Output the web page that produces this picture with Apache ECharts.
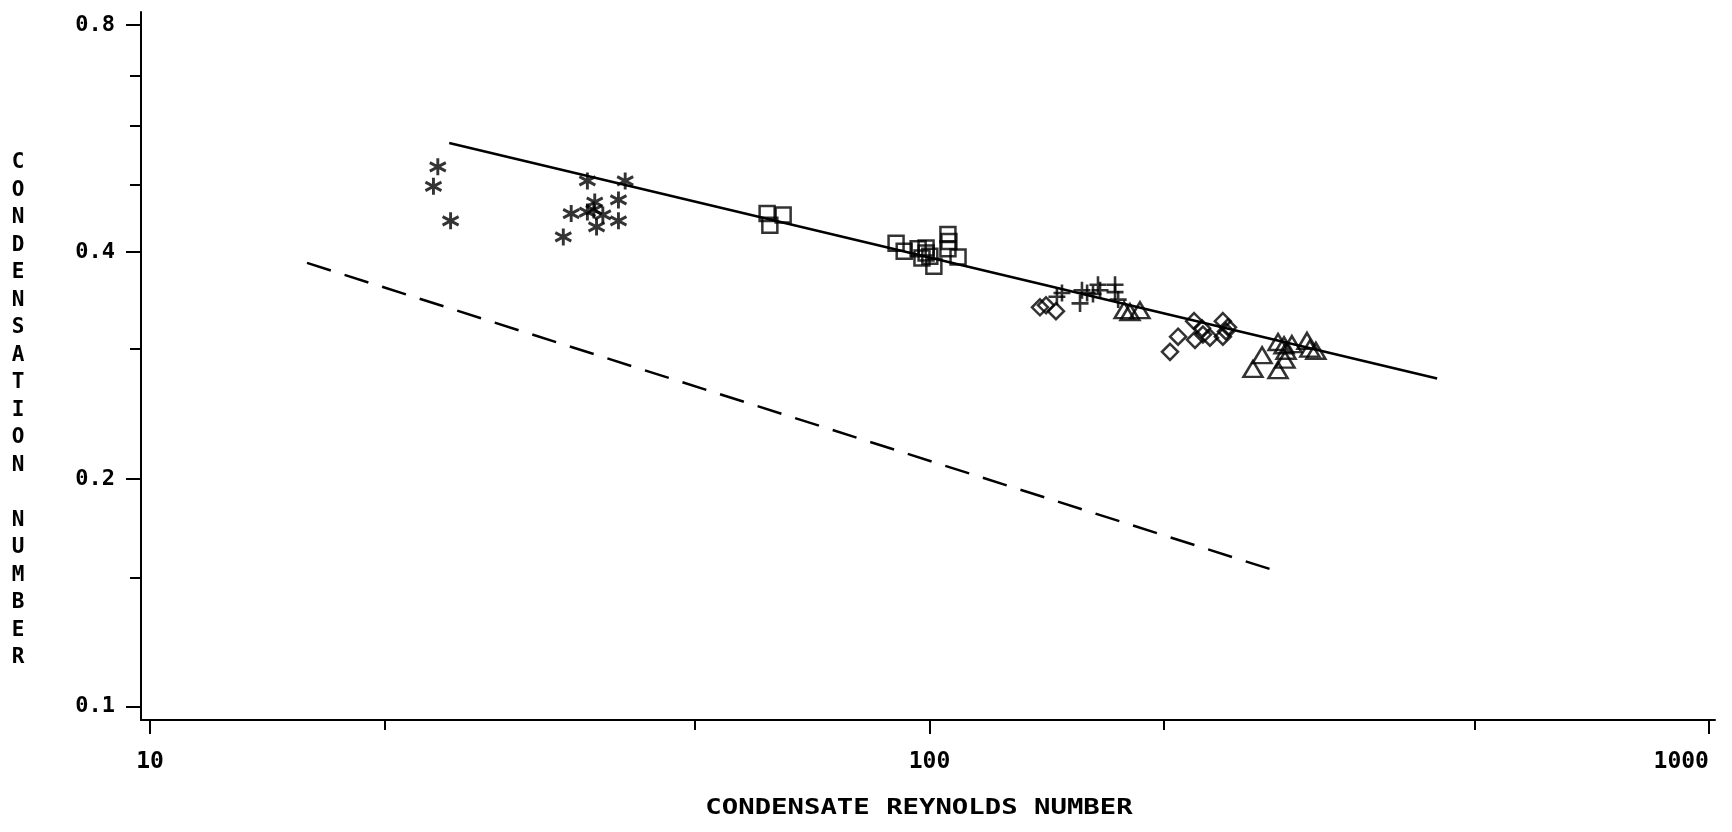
<!DOCTYPE html>
<html>
<head>
<meta charset="utf-8">
<script src="https://cdn.jsdelivr.net/npm/echarts@6/dist/echarts.min.js"></script>
<style>
  html, body { margin: 0; padding: 0; background: #ffffff; }
  #chart { width: 1732px; height: 832px; }
</style>
</head>
<body>
<div id="chart"></div>
<script>
// Run groups: condensate Reynolds number (Re) and condensation number (Co)
const starRe = [23.4, 23.1, 24.3, 36.4, 40.7, 39.9, 37.2, 34.7, 36.4, 38.1, 37.4, 39.9, 33.9, 37.1];
const starCo = [0.519, 0.489, 0.440, 0.497, 0.497, 0.469, 0.466, 0.450, 0.452, 0.448, 0.432, 0.440, 0.419, 0.455];

const squareRe = [61.9, 64.9, 62.4, 90.6, 92.8, 96.7, 99.0, 100.1, 101.3, 105.6, 105.9, 105.6, 108.8, 97.8, 99.0];
const squareCo = [0.450, 0.448, 0.434, 0.411, 0.401, 0.404, 0.405, 0.395, 0.383, 0.422, 0.413, 0.404, 0.394, 0.393, 0.399];

const plusRe = [147.9, 145.7, 156.9, 159.3, 162.1, 164.5, 173.0, 173.0, 156.0, 174.6, 165.5];
const plusCo = [0.353, 0.349, 0.356, 0.353, 0.352, 0.362, 0.362, 0.354, 0.342, 0.346, 0.356];

const diamondRe = [138.6, 141.1, 145.3, 203.5, 208.4, 218.5, 219.1, 224.3, 223.7, 237.9, 241.5, 237.9, 240.1, 229.0];
const diamondCo = [0.338, 0.340, 0.334, 0.295, 0.309, 0.324, 0.306, 0.311, 0.317, 0.324, 0.318, 0.309, 0.314, 0.308];

const triangleRe = [177.7, 180.8, 186.2, 260.0, 267.1, 280.0, 280.0, 285.8, 286.7, 291.7, 305.0, 307.6, 313.1, 285.0];
const triangleCo = [0.335, 0.333, 0.335, 0.280, 0.292, 0.279, 0.304, 0.288, 0.296, 0.302, 0.305, 0.298, 0.296, 0.301];

// Correlation lines (end points)
const solidRe = [24.2, 448];
const solidCo = [0.558, 0.272];
const dashedRe = [15.9, 273.5];
const dashedCo = [0.387, 0.152];

// Axis ticks
const xMajorTicks = [10, 100, 1000];
const xMinorTicks = [20, 50, 200, 500];
const yMajorTicks = [0.1, 0.2, 0.4, 0.8];
const yMinorTicks = [0.148, 0.298, 0.492, 0.588, 0.685];

const xTitle = 'CONDENSATE REYNOLDS NUMBER';
const yTitle = 'CONDENSATION NUMBER';

// Axis extents (the frame extends slightly past the first/last tick)
const X_MIN = 9.737, X_MAX = 1018;
const Y_MIN = 0.0959, Y_MAX = 0.8324;

const FONT = '"DejaVu Sans Mono", "Liberation Mono", monospace';
const INK = '#000000';

function zip(xs, ys) { return xs.map((x, i) => [x, ys[i]]); }
const lg = Math.log10;

const markerStyle = { color: 'rgba(0,0,0,0)', borderColor: INK, borderWidth: 2.5 };

function scatter(name, xs, ys, symbol, size, width) {
  return {
    name: name, type: 'scatter', xAxisIndex: 0, yAxisIndex: 0,
    data: zip(xs, ys), symbol: symbol, symbolSize: size,
    itemStyle: Object.assign({}, markerStyle, width ? { borderWidth: width } : {}),
    silent: true, z: 3
  };
}

// Overlay axis in log10 space used only for tick marks and tick labels
function tickAxis(base, values, len, labels, extra) {
  return Object.assign({
    type: 'value', min: lg(base[0]), max: lg(base[1]),
    axisLine: { show: false }, splitLine: { show: false },
    axisTick: { show: true, inside: false, length: len, customValues: values.map(lg),
                lineStyle: { color: INK, width: 2 } },
    axisLabel: labels ? Object.assign({ show: true, customValues: values.map(lg) }, labels)
                      : { show: false }
  }, extra || {});
}

const chart = echarts.init(document.getElementById('chart'), null, { renderer: 'canvas' });

chart.setOption({
  animation: false,
  backgroundColor: '#ffffff',
  grid: { left: 141, right: 17, top: 12, bottom: 112, containLabel: false, outerBoundsMode: 'none' },
  xAxis: [
    {
      type: 'log', logBase: 10, min: X_MIN, max: X_MAX, position: 'bottom',
      axisLine: { show: true, lineStyle: { color: INK, width: 2 } },
      axisTick: { show: false }, axisLabel: { show: false }, splitLine: { show: false },
      minorTick: { show: false }, minorSplitLine: { show: false }
    },
    tickAxis([X_MIN, X_MAX], xMajorTicks, 14, {
      margin: 31, color: INK, fontFamily: FONT, fontSize: 23, fontWeight: 'bold',
      formatter: v => String(Math.round(Math.pow(10, v))),
      alignMaxLabel: 'right'
    }, { position: 'bottom' }),
    tickAxis([X_MIN, X_MAX], xMinorTicks, 10, null, { position: 'bottom' })
  ],
  yAxis: [
    {
      type: 'log', logBase: 2, min: Y_MIN, max: Y_MAX, position: 'left',
      axisLine: { show: true, lineStyle: { color: INK, width: 2 } },
      axisTick: { show: false }, axisLabel: { show: false }, splitLine: { show: false },
      minorTick: { show: false }, minorSplitLine: { show: false }
    },
    tickAxis([Y_MIN, Y_MAX], yMajorTicks, 15, {
      margin: 26, color: INK, fontFamily: FONT, fontSize: 22, fontWeight: 'bold',
      formatter: v => (Math.round(Math.pow(10, v) * 10) / 10).toFixed(1)
    }, { position: 'left' }),
    tickAxis([Y_MIN, Y_MAX], yMinorTicks, 11, null, { position: 'left' })
  ],
  graphic: [
    {
      type: 'text', x: 18, y: 149, silent: true,
      style: {
        text: yTitle.split('').join('\n'),
        fill: INK, font: 'bold 21px ' + FONT,
        align: 'center', verticalAlign: 'top',
        textAlign: 'center', textVerticalAlign: 'top',
        lineHeight: 27.5
      }
    },
    {
      type: 'text', x: 919, y: 809, scaleX: 1.3, silent: true,
      style: {
        text: xTitle,
        fill: INK, font: 'bold 21px ' + FONT,
        align: 'center', verticalAlign: 'middle',
        textAlign: 'center', textVerticalAlign: 'middle'
      }
    }
  ],
  series: [
    {
      name: 'correlation', type: 'line', xAxisIndex: 0, yAxisIndex: 0,
      data: zip(solidRe, solidCo), symbol: 'none', silent: true, z: 2,
      lineStyle: { color: INK, width: 2.5, type: 'solid' }
    },
    {
      name: 'reference', type: 'line', xAxisIndex: 0, yAxisIndex: 0,
      data: zip(dashedRe, dashedCo), symbol: 'none', silent: true, z: 2,
      lineStyle: { color: INK, width: 2.5, type: [25, 14.4] }
    },
    scatter('run A', starRe, starCo, 'path://M0,-10L0,10M-8.66,-5L8.66,5M-8.66,5L8.66,-5', [16, 17], 3),
    scatter('run B', squareRe, squareCo, 'rect', 15),
    scatter('run C', plusRe, plusCo, 'path://M-8,0L8,0M0,-8L0,8', 17, 2.6),
    scatter('run D', diamondRe, diamondCo, 'diamond', 16),
    scatter('run E', triangleRe, triangleCo, 'triangle', [19, 16])
  ]
});
</script>
</body>
</html>
